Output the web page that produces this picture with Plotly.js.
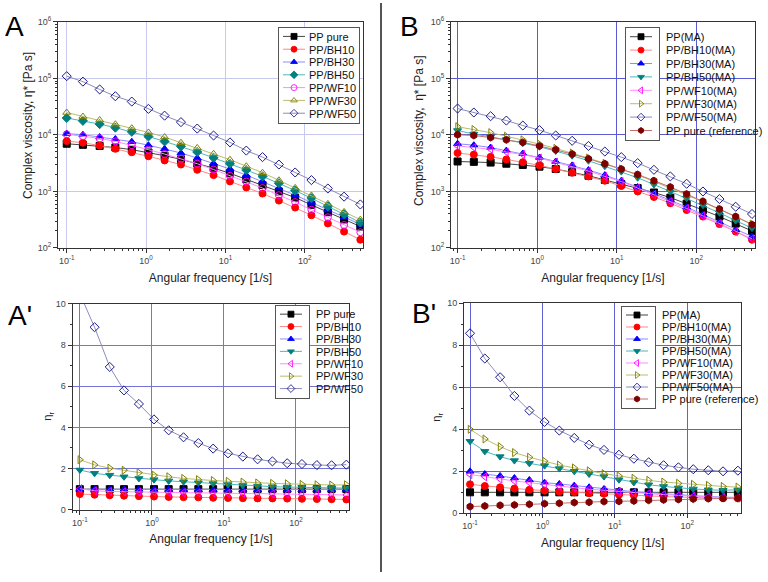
<!DOCTYPE html>
<html>
<head>
<meta charset="utf-8">
<script src="https://cdn.plot.ly/plotly-3.0.1.min.js"></script>
<style>
  body { margin: 0; background: #fff; }
  #myDiv { width: 768px; height: 582px; }
</style>
</head>
<body>
<div id="myDiv"></div>
<script>
// angular frequency [1/s], same sweep for all samples
var freq = [0.1, 0.16, 0.26, 0.41, 0.66, 1.07, 1.71, 2.75, 4.41, 7.08, 11.4, 18.3, 29.3, 47.1, 75.5, 121, 195, 312, 500];

// A: complex viscosity [Pa s]
var namesA = ['PP pure', 'PP/BH10', 'PP/BH30', 'PP/BH50', 'PP/WF10', 'PP/WF30', 'PP/WF50'];
var aPure = [7000, 6700, 6400, 6000, 5500, 4900, 4300, 3700, 3100, 2600, 2100, 1650, 1300, 1000, 780, 580, 430, 320, 240];
var aBH10 = [7800, 7300, 6500, 5700, 4950, 4200, 3550, 3000, 2420, 1950, 1510, 1180, 920, 690, 520, 380, 272, 195, 140];
var aBH30 = [10600, 10100, 9200, 8500, 7600, 6600, 5700, 4800, 3900, 3150, 2500, 1950, 1500, 1150, 860, 640, 470, 350, 262];
var aBH50 = [20000, 17800, 15600, 13500, 11400, 9400, 7700, 6300, 5000, 3950, 3100, 2400, 1850, 1400, 1040, 760, 545, 395, 282];
var aWF10 = [10300, 9500, 8700, 7700, 6600, 5500, 4600, 3800, 3100, 2450, 1900, 1500, 1150, 860, 650, 475, 350, 255, 190];
var aWF30 = [25000, 21200, 18400, 15500, 13200, 11100, 9200, 7300, 5900, 4650, 3650, 2800, 2150, 1580, 1160, 850, 605, 435, 318];
var aWF50 = [110000, 88000, 64000, 48500, 39000, 29000, 22000, 16900, 13000, 9800, 7400, 5300, 4060, 3000, 2170, 1590, 1130, 810, 590];

// B: complex viscosity of the MA grades [Pa s]
var namesB = ['PP(MA)', 'PP/BH10(MA)', 'PP/BH30(MA)', 'PP/BH50(MA)', 'PP/WF10(MA)', 'PP/WF30(MA)', 'PP/WF50(MA)', 'PP pure (reference)'];
var bPP = [3400, 3350, 3250, 3100, 2950, 2750, 2500, 2200, 1900, 1600, 1350, 1150, 960, 780, 610, 470, 360, 270, 200];
var bBH10 = [4800, 4500, 4100, 3700, 3300, 2900, 2500, 2150, 1850, 1550, 1250, 1000, 800, 620, 470, 360, 265, 195, 140];
var bBH30 = [7000, 6600, 6000, 5300, 4700, 4000, 3400, 2900, 2400, 1950, 1550, 1200, 920, 700, 530, 390, 290, 210, 160];
var bBH50 = [12000, 10400, 9300, 8300, 7200, 6200, 5200, 4300, 3500, 2800, 2250, 1750, 1330, 1000, 760, 570, 420, 305, 225];
var bWF10 = [6400, 6000, 5600, 5000, 4500, 3900, 3300, 2800, 2300, 1850, 1500, 1150, 880, 660, 500, 370, 270, 195, 145];
var bWF30 = [14000, 12500, 11000, 9500, 8200, 6900, 5800, 4800, 3900, 3150, 2500, 1950, 1500, 1150, 870, 650, 480, 350, 265];
var bWF50 = [29400, 25000, 21500, 18000, 14700, 12200, 9800, 7900, 6400, 5100, 4060, 3180, 2420, 1850, 1370, 1000, 735, 537, 400];
var bRef = [10100, 9800, 9000, 8200, 7400, 6400, 5500, 4600, 3800, 3100, 2500, 2000, 1550, 1200, 900, 670, 490, 360, 260];

// A': relative viscosity
var apPure = [1, 1, 1, 1, 1, 1, 1, 1, 1, 1, 1, 1, 1, 1, 1, 1, 1, 1, 1];
var apBH10 = [0.76, 0.73, 0.70, 0.68, 0.66, 0.64, 0.62, 0.61, 0.60, 0.58, 0.57, 0.56, 0.55, 0.55, 0.54, 0.53, 0.52, 0.51, 0.50];
var apBH30 = [0.99, 0.99, 0.99, 0.98, 0.98, 0.98, 0.97, 0.97, 0.97, 0.97, 0.96, 0.96, 0.96, 0.96, 0.96, 0.96, 0.96, 0.97, 0.98];
var apBH50 = [1.93, 1.77, 1.68, 1.60, 1.52, 1.46, 1.40, 1.36, 1.31, 1.27, 1.22, 1.18, 1.15, 1.12, 1.10, 1.08, 1.06, 1.04, 1.05];
var apWF10 = [1.02, 0.92, 0.89, 0.87, 0.86, 0.85, 0.84, 0.83, 0.82, 0.81, 0.80, 0.79, 0.78, 0.77, 0.76, 0.75, 0.74, 0.73, 0.72];
var apWF30 = [2.43, 2.18, 2.02, 1.92, 1.80, 1.68, 1.60, 1.52, 1.46, 1.42, 1.38, 1.34, 1.30, 1.28, 1.26, 1.23, 1.21, 1.20, 1.21];
var apWF50 = [10.5, 8.87, 6.94, 5.80, 5.14, 4.39, 3.86, 3.52, 3.24, 2.97, 2.74, 2.58, 2.45, 2.35, 2.26, 2.22, 2.17, 2.16, 2.19];

// B': relative viscosity of the MA grades
var bpPP = [1, 1, 1, 1, 1, 1, 1, 1, 1, 1, 1, 1, 1, 1, 1, 1, 1, 1, 1];
var bpBH10 = [1.38, 1.30, 1.24, 1.18, 1.12, 1.08, 1.03, 1.00, 0.96, 0.93, 0.89, 0.86, 0.83, 0.80, 0.77, 0.75, 0.73, 0.72, 0.71];
var bpBH30 = [2.00, 1.87, 1.78, 1.68, 1.59, 1.46, 1.40, 1.32, 1.24, 1.16, 1.08, 1.03, 0.98, 0.92, 0.89, 0.84, 0.80, 0.77, 0.76];
var bpBH50 = [3.43, 2.95, 2.70, 2.51, 2.38, 2.27, 2.13, 2.00, 1.87, 1.75, 1.60, 1.47, 1.36, 1.28, 1.21, 1.16, 1.12, 1.10, 1.12];
var bpWF10 = [1.85, 1.74, 1.63, 1.54, 1.46, 1.37, 1.29, 1.22, 1.15, 1.09, 1.03, 0.98, 0.94, 0.89, 0.85, 0.81, 0.78, 0.75, 0.73];
var bpWF30 = [4.00, 3.54, 3.17, 2.89, 2.67, 2.48, 2.30, 2.16, 2.02, 1.89, 1.78, 1.67, 1.57, 1.49, 1.43, 1.38, 1.33, 1.28, 1.25];
var bpWF50 = [8.57, 7.37, 6.48, 5.59, 4.89, 4.35, 3.94, 3.59, 3.27, 3.02, 2.79, 2.60, 2.43, 2.29, 2.19, 2.10, 2.05, 2.00, 2.03];
var bpRef = [0.32, 0.35, 0.38, 0.40, 0.43, 0.46, 0.48, 0.51, 0.53, 0.56, 0.57, 0.59, 0.62, 0.64, 0.66, 0.68, 0.70, 0.71, 0.73];

// marker colour, line colour
var cBlack = ['#000000', '#444444'];
var cRed = ['#ff0000', '#ff8888'];
var cBlue = ['#0000ff', '#8c8cff'];
var cTeal = ['#008080', '#4db8b8'];
var cPink = ['#ff00ff', '#ff8cff'];
var cOlive = ['#808000', '#bcbc70'];
var cNavy = ['#1a1a8c', '#8c8cbc'];
var cWine = ['#800000', '#c07070'];

var FONT = 'Liberation Sans, Arial, sans-serif';

function trace(x, y, name, sym, col, xa, ya, lg) {
    return {
        x: x, y: y, name: name,
        xaxis: xa, yaxis: ya, legend: lg,
        type: 'scatter', mode: 'lines+markers',
        line: { color: col[1], width: 1 },
        marker: { symbol: sym, size: 7, color: col[0], line: { color: col[0], width: 1 } }
    };
}

var data = [
    trace(freq, aPure, namesA[0], 'square', cBlack, 'x', 'y', 'legend'),
    trace(freq, aBH10, namesA[1], 'circle', cRed, 'x', 'y', 'legend'),
    trace(freq, aBH30, namesA[2], 'triangle-up', cBlue, 'x', 'y', 'legend'),
    trace(freq, aBH50, namesA[3], 'diamond', cTeal, 'x', 'y', 'legend'),
    trace(freq, aWF10, namesA[4], 'circle-open', cPink, 'x', 'y', 'legend'),
    trace(freq, aWF30, namesA[5], 'triangle-up-open', cOlive, 'x', 'y', 'legend'),
    trace(freq, aWF50, namesA[6], 'diamond-open', cNavy, 'x', 'y', 'legend'),

    trace(freq, bPP, namesB[0], 'square', cBlack, 'x2', 'y2', 'legend2'),
    trace(freq, bBH10, namesB[1], 'circle', cRed, 'x2', 'y2', 'legend2'),
    trace(freq, bBH30, namesB[2], 'triangle-up', cBlue, 'x2', 'y2', 'legend2'),
    trace(freq, bBH50, namesB[3], 'triangle-down', cTeal, 'x2', 'y2', 'legend2'),
    trace(freq, bWF10, namesB[4], 'triangle-left-open', cPink, 'x2', 'y2', 'legend2'),
    trace(freq, bWF30, namesB[5], 'triangle-right-open', cOlive, 'x2', 'y2', 'legend2'),
    trace(freq, bWF50, namesB[6], 'diamond-open', cNavy, 'x2', 'y2', 'legend2'),
    trace(freq, bRef, namesB[7], 'hexagon', cWine, 'x2', 'y2', 'legend2'),

    trace(freq, apPure, namesA[0], 'square', cBlack, 'x3', 'y3', 'legend3'),
    trace(freq, apBH10, namesA[1], 'circle', cRed, 'x3', 'y3', 'legend3'),
    trace(freq, apBH30, namesA[2], 'triangle-up', cBlue, 'x3', 'y3', 'legend3'),
    trace(freq, apBH50, namesA[3], 'triangle-down', cTeal, 'x3', 'y3', 'legend3'),
    trace(freq, apWF10, namesA[4], 'triangle-left-open', cPink, 'x3', 'y3', 'legend3'),
    trace(freq, apWF30, namesA[5], 'triangle-right-open', cOlive, 'x3', 'y3', 'legend3'),
    trace(freq, apWF50, namesA[6], 'diamond-open', cNavy, 'x3', 'y3', 'legend3'),

    trace(freq, bpPP, namesB[0], 'square', cBlack, 'x4', 'y4', 'legend4'),
    trace(freq, bpBH10, namesB[1], 'circle', cRed, 'x4', 'y4', 'legend4'),
    trace(freq, bpBH30, namesB[2], 'triangle-up', cBlue, 'x4', 'y4', 'legend4'),
    trace(freq, bpBH50, namesB[3], 'triangle-down', cTeal, 'x4', 'y4', 'legend4'),
    trace(freq, bpWF10, namesB[4], 'triangle-left-open', cPink, 'x4', 'y4', 'legend4'),
    trace(freq, bpWF30, namesB[5], 'triangle-right-open', cOlive, 'x4', 'y4', 'legend4'),
    trace(freq, bpWF50, namesB[6], 'diamond-open', cNavy, 'x4', 'y4', 'legend4'),
    trace(freq, bpRef, namesB[7], 'hexagon', cWine, 'x4', 'y4', 'legend4')
];

// decade labels written as 10^n
function decades(lo, hi) {
    var v = [], t = [];
    for (var p = lo; p <= hi; p++) {
        v.push(Math.pow(10, p));
        t.push('10<sup>' + p + '</sup>');
    }
    return { vals: v, text: t };
}
function logMinor(lo, hi) {
    var m = [];
    for (var p = lo; p <= hi; p++) {
        for (var k = 2; k <= 9; k++) m.push(k * Math.pow(10, p));
    }
    return m;
}
var xDec = decades(-1, 2);
var yDec = decades(2, 6);

function logX(dom, range, grid, anchor) {
    return {
        type: 'log', domain: dom, range: range, anchor: anchor,
        tickmode: 'array', tickvals: xDec.vals, ticktext: xDec.text,
        ticks: 'outside', ticklen: 4, tickcolor: '#333',
        minor: { tickmode: 'array', tickvals: logMinor(-2, 2), ticks: 'outside', ticklen: 2, tickcolor: '#333', showgrid: false },
        showgrid: true, gridcolor: grid, gridwidth: 1,
        showline: true, mirror: true, linecolor: '#333', linewidth: 1,
        tickfont: { family: FONT, size: 9, color: '#444' },
        title: { text: 'Angular frequency [1/s]', font: { family: FONT, size: 12, color: '#222' }, standoff: 8 }
    };
}
function logY(dom, grid, anchor) {
    return {
        type: 'log', domain: dom, range: [2, 6], anchor: anchor,
        tickmode: 'array', tickvals: yDec.vals, ticktext: yDec.text,
        ticks: 'outside', ticklen: 4, tickcolor: '#333',
        minor: { tickmode: 'array', tickvals: logMinor(2, 5), ticks: 'outside', ticklen: 2, tickcolor: '#333', showgrid: false },
        showgrid: true, gridcolor: grid, gridwidth: 1,
        showline: true, mirror: true, linecolor: '#333', linewidth: 1,
        tickfont: { family: FONT, size: 9, color: '#444' }
    };
}
function linY(dom, grid, anchor) {
    return {
        type: 'linear', domain: dom, range: [0, 10], anchor: anchor,
        tickmode: 'linear', tick0: 0, dtick: 2,
        ticks: 'outside', ticklen: 4, tickcolor: '#333',
        minor: { dtick: 1, ticks: 'outside', ticklen: 2, tickcolor: '#333', showgrid: false },
        showgrid: true, gridcolor: grid, gridwidth: 1, zeroline: false,
        showline: true, mirror: true, linecolor: '#333', linewidth: 1,
        tickfont: { family: FONT, size: 9, color: '#444' }
    };
}
function legendBox(x, y) {
    return {
        x: x, y: y, xanchor: 'left', yanchor: 'top',
        bgcolor: '#ffffff', bordercolor: '#555', borderwidth: 1,
        font: { family: FONT, size: 11, color: '#111' },
        tracegroupgap: 0
    };
}
// rotated y-axis titles, placed where the original figure has them
function yTitle(text, x, y, size) {
    return {
        text: text, x: x, y: y, xref: 'paper', yref: 'paper',
        xanchor: 'center', yanchor: 'middle', textangle: -90, showarrow: false,
        font: { family: FONT, size: size, color: '#222' }
    };
}
function letter(text, x, y) {
    return {
        text: text, x: x, y: y, xref: 'paper', yref: 'paper',
        xanchor: 'left', yanchor: 'top', showarrow: false,
        font: { family: FONT, size: 28, color: '#000' }
    };
}

var layout = {
    width: 768, height: 582,
    margin: { l: 0, r: 0, t: 0, b: 0, autoexpand: false },
    paper_bgcolor: '#ffffff', plot_bgcolor: '#ffffff',
    font: { family: FONT },
    xaxis: logX([0.0755, 0.4727], [-1.11, 2.733], '#c9c9ef', 'y'),
    yaxis: logY([0.5739, 0.9622], '#c9c9ef', 'x'),
    xaxis2: logX([0.5872, 0.9831], [-1.083, 2.737], '#5a5ad2', 'y2'),
    yaxis2: logY([0.5739, 0.9622], '#5a5ad2', 'x2'),
    xaxis3: logX([0.0946, 0.4548], [-1.10, 2.74], '#7373da', 'y3'),
    yaxis3: linY([0.1242, 0.4777], '#7373da', 'x3'),
    xaxis4: logX([0.6042, 0.9652], [-1.083, 2.746], '#6262d4', 'y4'),
    yaxis4: linY([0.1180, 0.4789], '#6262d4', 'x4'),
    legend: legendBox(0.362, 0.9536),
    legend2: legendBox(0.8138, 0.9536),
    legend3: legendBox(0.358, 0.476),
    legend4: legendBox(0.8086, 0.4742),
    shapes: [
        { type: 'line', xref: 'paper', yref: 'paper', x0: 0.4961, x1: 0.4961, y0: 0.017, y1: 0.995,
          line: { color: '#555', width: 2 } }
    ],
    annotations: [
        letter('A', 0.004, 0.985),
        letter('B', 0.518, 0.985),
        letter("A'", 0.008, 0.488),
        letter("B'", 0.534, 0.492),
        yTitle('Complex viscosity, \u03b7* [Pa s]', 0.0365, 0.7835, 12),
        yTitle('Complex viscosity,  \u03b7* [Pa s]', 0.5456, 0.775, 12),
        yTitle('\u03b7<sub>r</sub>', 0.0625, 0.284, 11),
        yTitle('\u03b7<sub>r</sub>', 0.569, 0.284, 11)
    ]
};

// Origin-style legends are much tighter than plotly's 19px rows
function squeezeLegend(gd, id, step) {
    var lg = gd.querySelector('.infolayer g.' + id);
    if (!lg) return;
    var items = lg.querySelectorAll('g.traces');
    var maxW = 0;
    items.forEach(function (it, i) {
        it.setAttribute('transform', 'translate(1,' + (3 + step * (i + 0.5)) + ')');
        it.querySelectorAll('g.legendlines path').forEach(function (ln) {
            ln.setAttribute('d', 'M4,0h22');
        });
        it.querySelectorAll('g.legendpoints path').forEach(function (pt) {
            pt.setAttribute('transform', 'translate(15,0) scale(0.85)');
        });
        var tx = it.querySelector('text.legendtext');
        if (tx) {
            tx.setAttribute('x', 30);
            maxW = Math.max(maxW, tx.getBBox().width);
        }
    });
    var bg = lg.querySelector('rect.bg');
    if (bg) {
        bg.setAttribute('height', step * items.length + 6);
        bg.setAttribute('width', 34 + maxW);
    }
}

Plotly.newPlot('myDiv', data, layout, { staticPlot: true }).then(function (gd) {
    squeezeLegend(gd, 'legend', 12.8);
    squeezeLegend(gd, 'legend2', 13.4);
    squeezeLegend(gd, 'legend3', 12.4);
    squeezeLegend(gd, 'legend4', 12.0);
});
</script>
</body>
</html>
